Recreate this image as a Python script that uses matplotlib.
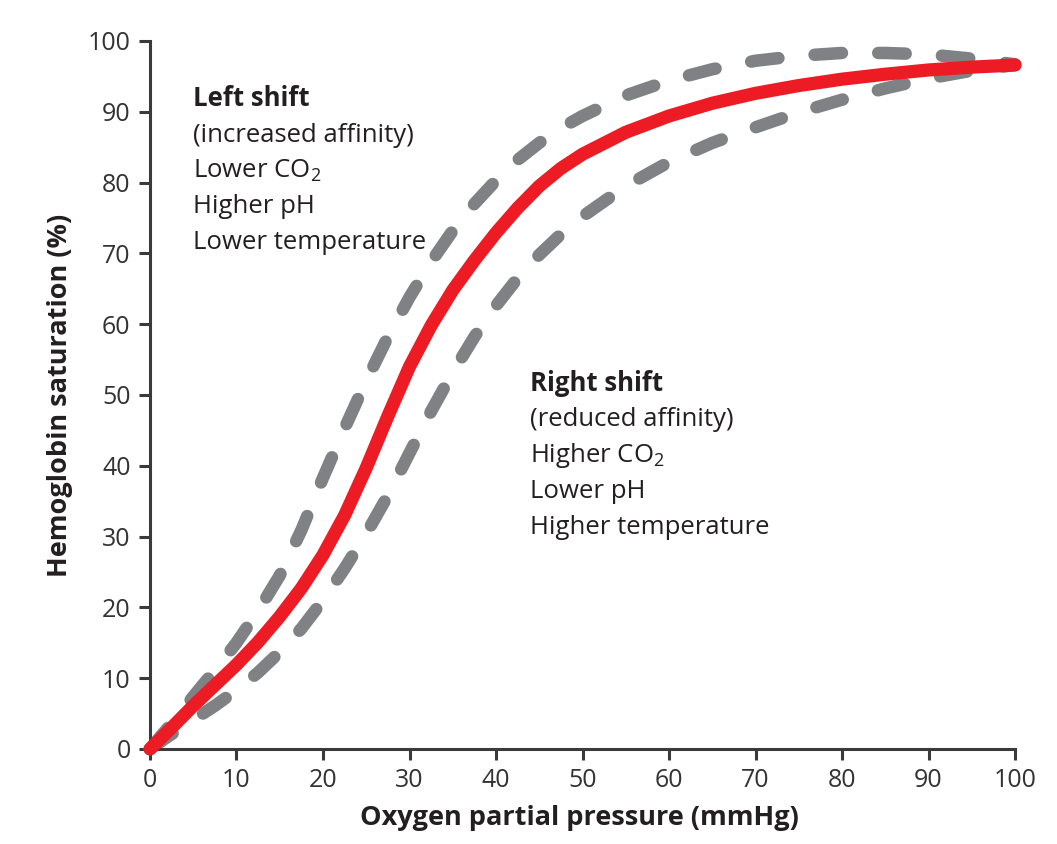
import numpy as np
import matplotlib
matplotlib.use('Agg')
import matplotlib.pyplot as plt

# values
po2 = [0, 2.5, 5, 7.5, 10, 12.5, 15, 17.5, 20, 22.5, 25, 27.5, 30, 32.5, 35,
       37.5, 40, 42.5, 45, 47.5, 50, 55, 60, 65, 70, 75, 80, 85, 90, 95, 100]

sat_normal = [0, 3.0, 6.1, 9.0, 11.9, 15.1, 18.7, 22.7, 27.4, 33.0, 39.7, 47.0,
              54.0, 59.8, 64.8, 69.0, 72.9, 76.4, 79.5, 82.0, 84.0, 87.1, 89.4,
              91.2, 92.6, 93.7, 94.6, 95.3, 95.9, 96.3, 96.6]

sat_left = [0, 3.6, 7.4, 11.1, 15.0, 19.5, 24.5, 30.9, 38.3, 45.3, 52.0, 58.2,
            63.8, 68.8, 73.2, 77.0, 80.3, 83.2, 85.6, 87.7, 89.4, 92.3, 94.4,
            96.0, 97.2, 97.9, 98.3, 98.3, 98.1, 97.5, 96.7]

sat_right = [0, 2.1, 4.1, 6.1, 8.3, 10.8, 13.7, 17.0, 21.0, 25.5, 30.4, 35.8,
             41.8, 47.7, 53.2, 58.2, 62.6, 66.5, 69.8, 72.7, 75.2, 79.5, 82.9,
             85.6, 87.8, 89.9, 91.7, 93.3, 94.7, 95.8, 96.6]

left_text = ['Left shift', '(increased affinity)', r'Lower CO$_\mathregular{2}$',
             'Higher pH', 'Lower temperature']
right_text = ['Right shift', '(reduced affinity)', r'Higher CO$_\mathregular{2}$',
              'Lower pH', 'Higher temperature']

ticks = [0, 10, 20, 30, 40, 50, 60, 70, 80, 90, 100]

plt.rcParams['font.family'] = ['Open Sans', 'DejaVu Sans']
plt.rcParams['mathtext.fontset'] = 'custom'
plt.rcParams['mathtext.rm'] = 'Open Sans'

ink = '#231f20'
red = '#ed1c24'
grey = '#808184'

fig = plt.figure(figsize=(10.57, 8.44), dpi=100)
ax = fig.add_axes([0.1419, 0.1126, 0.8184, 0.8389])

for sat in [sat_left, sat_right]:
    ax.plot(po2, sat, color=grey, lw=9, dashes=(2.2, 2.9),
            dash_capstyle='round', dash_joinstyle='round',
            clip_on=False, zorder=2)
ax.plot(po2, sat_normal, color=red, lw=9.5, solid_capstyle='round',
        solid_joinstyle='round', clip_on=False, zorder=3)

ax.set_xlim(0, 100)
ax.set_ylim(0, 100)
ax.set_xticks(ticks)
ax.set_yticks(ticks)

for side in ['top', 'right']:
    ax.spines[side].set_visible(False)
for side in ['left', 'bottom']:
    ax.spines[side].set_linewidth(2.2)
    ax.spines[side].set_color('#3a3a3a')

ax.tick_params(length=8, width=2.2, color='#3a3a3a', labelsize=18,
               labelcolor='#333333', pad=6)

ax.set_xlabel('Oxygen partial pressure (mmHg)', fontsize=19.5, fontweight='bold',
              color=ink, va='center')
ax.xaxis.set_label_coords(0.497, -0.0975)
ax.set_ylabel('Hemoglobin saturation (%)', fontsize=19.5, fontweight='bold',
              color=ink, va='center')
ax.yaxis.set_label_coords(-0.104, 0.5)

y0 = 90.8
for i, s in enumerate(left_text):
    ax.text(5.0, y0 - i * 5.05, s, fontsize=18.5, color=ink,
            fontweight='bold' if i == 0 else 'normal', va='baseline')

y0 = 50.6
for i, s in enumerate(right_text):
    ax.text(43.9, y0 - i * 5.05, s, fontsize=18.5, color=ink,
            fontweight='bold' if i == 0 else 'normal', va='baseline')

fig.savefig('out.png', dpi=100)
